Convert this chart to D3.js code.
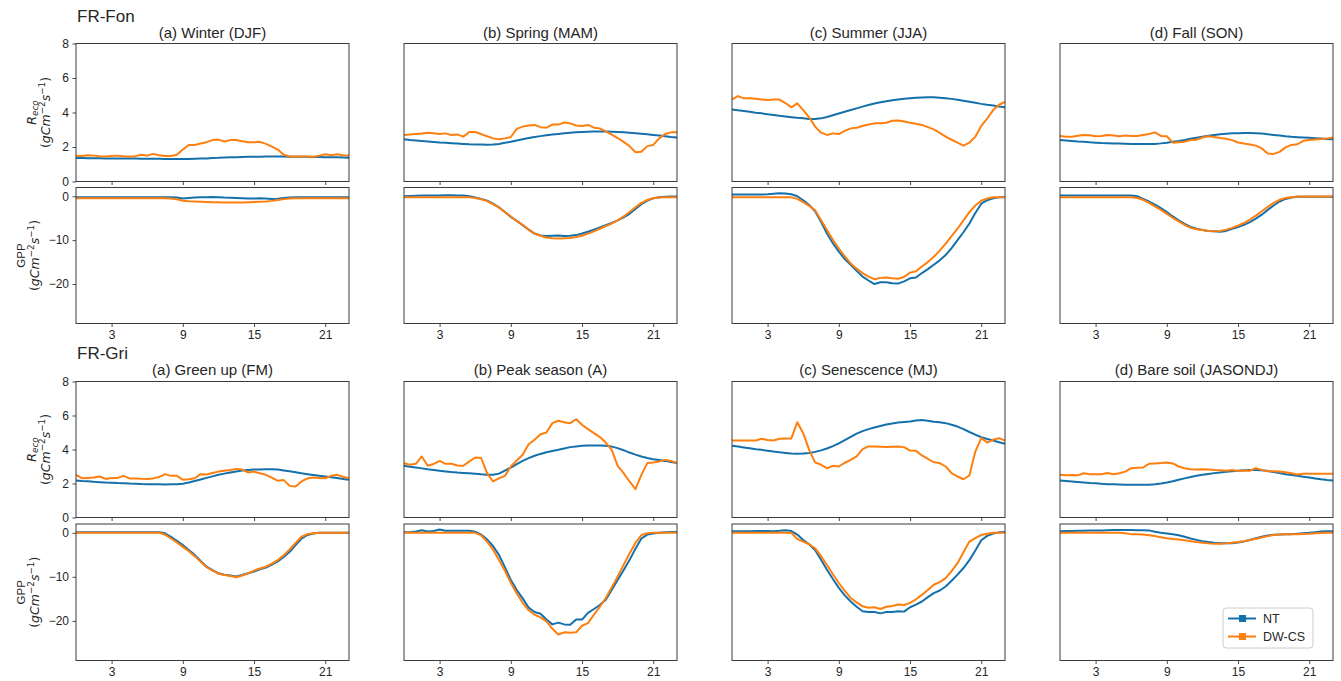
<!DOCTYPE html>
<html>
<head>
<meta charset="utf-8">
<script src="https://cdn.jsdelivr.net/npm/d3@7"></script>
<style>
  body { margin: 0; background: #fff; }
  svg text { font-family: "Liberation Sans", Arial, Helvetica, sans-serif; fill: #262626; }
  svg text.math { font-family: "DejaVu Sans", sans-serif; }
</style>
</head>
<body>
<svg id="chart" width="1341" height="681"></svg>
<script>
// Half-hourly time axis (hour of day)
const hours = [0,0.5,1,1.5,2,2.5,3,3.5,4,4.5,5,5.5,6,6.5,7,7.5,8,8.5,9,9.5,10,10.5,11,11.5,12,12.5,13,13.5,14,14.5,15,15.5,16,16.5,17,17.5,18,18.5,19,19.5,20,20.5,21,21.5,22,22.5,23];
const hourTicks = [3, 9, 15, 21];
const recoTicks = [0, 2, 4, 6, 8];
const gppTicks = [0, -10, -20];
const siteNames = ["FR-Fon", "FR-Gri"];
const fonTitles = ["(a) Winter (DJF)", "(b) Spring (MAM)", "(c) Summer (JJA)", "(d) Fall (SON)"];
const griTitles = ["(a) Green up (FM)", "(b) Peak season (A)", "(c) Senescence (MJ)", "(d) Bare soil (JASONDJ)"];
const methodNames = ["NT", "DW-CS"];
const methodColors = ["#1470ab", "#ff7f0e"];

// FR-Fon, winter
const fonDJF_recoNT = [1.36,1.36,1.35,1.35,1.35,1.34,1.34,1.34,1.33,1.33,1.33,1.32,1.32,1.32,1.32,1.31,1.31,1.31,1.31,1.31,1.32,1.33,1.34,1.36,1.37,1.39,1.40,1.41,1.42,1.43,1.44,1.44,1.45,1.45,1.45,1.45,1.44,1.44,1.43,1.43,1.42,1.42,1.41,1.40,1.40,1.39,1.38];
const fonDJF_recoDW = [1.50,1.48,1.52,1.50,1.47,1.45,1.48,1.50,1.47,1.45,1.47,1.55,1.50,1.60,1.52,1.48,1.48,1.55,1.85,2.12,2.12,2.20,2.28,2.40,2.43,2.32,2.40,2.40,2.33,2.28,2.27,2.30,2.18,2.02,1.85,1.55,1.45,1.45,1.45,1.45,1.43,1.50,1.58,1.52,1.58,1.52,1.50];
const fonDJF_gppNT = [-0.2,-0.2,-0.2,-0.2,-0.2,-0.2,-0.2,-0.2,-0.2,-0.2,-0.2,-0.2,-0.2,-0.2,-0.2,-0.2,-0.2,-0.3,-0.5,-0.4,-0.3,-0.25,-0.2,-0.15,-0.2,-0.3,-0.35,-0.4,-0.45,-0.5,-0.5,-0.45,-0.5,-0.6,-0.55,-0.4,-0.3,-0.2,-0.2,-0.2,-0.2,-0.2,-0.2,-0.2,-0.2,-0.2,-0.2];
const fonDJF_gppDW = [-0.45,-0.45,-0.45,-0.45,-0.45,-0.45,-0.45,-0.45,-0.45,-0.45,-0.45,-0.45,-0.45,-0.45,-0.45,-0.45,-0.5,-0.7,-1.0,-1.15,-1.2,-1.25,-1.3,-1.35,-1.35,-1.4,-1.4,-1.4,-1.4,-1.35,-1.3,-1.25,-1.2,-1.05,-0.85,-0.65,-0.5,-0.45,-0.45,-0.45,-0.45,-0.45,-0.45,-0.45,-0.45,-0.45,-0.45];

// FR-Fon, spring
const fonMAM_recoNT = [2.45,2.41,2.38,2.35,2.32,2.29,2.26,2.24,2.22,2.20,2.18,2.16,2.15,2.14,2.13,2.14,2.18,2.24,2.30,2.38,2.45,2.52,2.58,2.63,2.68,2.72,2.76,2.80,2.83,2.85,2.87,2.89,2.90,2.90,2.90,2.89,2.87,2.85,2.83,2.80,2.77,2.74,2.70,2.66,2.62,2.58,2.55];
const fonMAM_recoDW = [2.70,2.72,2.75,2.78,2.83,2.80,2.75,2.79,2.70,2.73,2.60,2.87,2.87,2.75,2.62,2.50,2.45,2.50,2.58,3.05,3.18,3.25,3.28,3.15,3.12,3.30,3.30,3.42,3.37,3.25,3.22,3.28,3.12,3.08,2.90,2.72,2.52,2.30,2.05,1.70,1.73,2.05,2.12,2.50,2.75,2.85,2.85];
const fonMAM_gppNT = [0,0.05,0.1,0.15,0.2,0.2,0.2,0.22,0.22,0.2,0.18,0.0,-0.3,-0.6,-1.0,-1.7,-2.5,-3.6,-4.7,-5.6,-6.6,-7.6,-8.5,-8.95,-9.05,-9.0,-8.95,-9.05,-9.0,-8.85,-8.5,-8.1,-7.6,-7.1,-6.6,-6.1,-5.5,-4.8,-4.0,-2.9,-1.8,-1.0,-0.45,-0.2,-0.1,-0.05,-0.05];
const fonMAM_gppDW = [-0.2,-0.2,-0.2,-0.2,-0.2,-0.2,-0.2,-0.2,-0.2,-0.2,-0.2,-0.25,-0.4,-0.7,-1.1,-1.8,-2.6,-3.6,-4.6,-5.6,-6.5,-7.6,-8.5,-9.0,-9.4,-9.55,-9.6,-9.55,-9.5,-9.3,-9.0,-8.5,-8.0,-7.4,-6.8,-6.2,-5.5,-4.6,-3.6,-2.5,-1.5,-0.8,-0.45,-0.3,-0.2,-0.2,-0.2];

// FR-Fon, summer
const fonJJA_recoNT = [4.18,4.13,4.09,4.04,3.99,3.95,3.90,3.86,3.81,3.77,3.73,3.69,3.66,3.63,3.62,3.66,3.74,3.84,3.94,4.04,4.14,4.24,4.34,4.43,4.52,4.59,4.65,4.71,4.76,4.80,4.83,4.85,4.87,4.88,4.88,4.86,4.83,4.79,4.74,4.68,4.62,4.56,4.50,4.45,4.41,4.35,4.30];
const fonJJA_recoDW = [4.76,4.95,4.82,4.82,4.80,4.76,4.72,4.75,4.75,4.55,4.30,4.53,4.14,3.72,3.18,2.83,2.70,2.79,2.75,2.93,3.08,3.12,3.22,3.30,3.37,3.38,3.41,3.52,3.53,3.48,3.41,3.35,3.28,3.15,3.02,2.82,2.60,2.42,2.25,2.08,2.25,2.60,3.22,3.65,4.14,4.45,4.62];
const fonJJA_gppNT = [0.4,0.4,0.4,0.4,0.4,0.4,0.45,0.6,0.7,0.65,0.45,0.0,-0.9,-2.0,-3.4,-5.8,-8.5,-10.7,-12.6,-14.3,-15.6,-17.0,-18.3,-19.2,-20.0,-19.6,-19.6,-19.8,-19.9,-19.4,-18.7,-18.5,-17.5,-16.6,-15.6,-14.6,-13.4,-11.8,-10.0,-8.2,-6.2,-3.8,-1.7,-0.9,-0.45,-0.25,-0.15];
const fonJJA_gppDW = [-0.2,-0.2,-0.2,-0.2,-0.2,-0.2,-0.2,-0.2,-0.2,-0.2,-0.25,-0.6,-1.35,-2.2,-3.2,-5.4,-7.7,-9.9,-11.9,-13.7,-15.3,-16.5,-17.5,-18.3,-18.9,-18.6,-18.5,-18.7,-18.8,-18.4,-17.4,-17.1,-16.0,-15.0,-13.8,-12.4,-10.8,-9.1,-7.4,-5.5,-3.6,-2.1,-1.0,-0.5,-0.2,-0.2,-0.2];

// FR-Fon, fall
const fonSON_recoNT = [2.40,2.38,2.35,2.32,2.30,2.27,2.25,2.23,2.22,2.21,2.20,2.19,2.18,2.17,2.17,2.17,2.18,2.21,2.25,2.30,2.35,2.41,2.48,2.54,2.60,2.65,2.70,2.74,2.77,2.79,2.80,2.81,2.81,2.80,2.78,2.74,2.70,2.66,2.62,2.59,2.57,2.55,2.53,2.51,2.49,2.47,2.45];
const fonSON_recoDW = [2.64,2.60,2.60,2.65,2.70,2.68,2.62,2.64,2.70,2.67,2.63,2.67,2.64,2.64,2.70,2.75,2.85,2.64,2.62,2.25,2.28,2.31,2.40,2.42,2.55,2.62,2.58,2.52,2.48,2.40,2.26,2.20,2.15,2.08,1.92,1.62,1.60,1.72,1.98,2.12,2.16,2.36,2.40,2.44,2.46,2.50,2.55];
const fonSON_gppNT = [0.15,0.15,0.15,0.15,0.15,0.15,0.15,0.15,0.15,0.15,0.15,0.15,0.15,0.0,-0.6,-1.2,-1.9,-2.7,-3.6,-4.6,-5.5,-6.3,-7.0,-7.4,-7.7,-7.9,-8.0,-8.1,-7.9,-7.4,-7.0,-6.5,-5.9,-5.1,-4.2,-3.1,-2.1,-1.2,-0.6,-0.3,-0.1,-0.1,-0.1,-0.1,-0.1,-0.1,-0.1];
const fonSON_gppDW = [-0.2,-0.2,-0.2,-0.2,-0.2,-0.2,-0.2,-0.2,-0.2,-0.2,-0.2,-0.2,-0.2,-0.4,-0.8,-1.5,-2.3,-3.1,-4.0,-4.9,-5.7,-6.5,-7.2,-7.5,-7.7,-7.9,-8.0,-7.9,-7.6,-7.2,-6.7,-6.1,-5.3,-4.4,-3.4,-2.4,-1.5,-0.8,-0.4,-0.2,-0.05,-0.05,-0.05,-0.05,-0.05,-0.05,-0.05];

// FR-Gri, green up
const griFM_recoNT = [2.18,2.15,2.13,2.10,2.08,2.06,2.05,2.03,2.02,2.00,1.99,1.97,1.96,1.95,1.95,1.94,1.95,1.96,1.99,2.06,2.15,2.24,2.33,2.42,2.51,2.58,2.65,2.71,2.76,2.79,2.82,2.83,2.84,2.84,2.82,2.77,2.72,2.66,2.60,2.55,2.50,2.45,2.41,2.37,2.32,2.27,2.22];
const griFM_recoDW = [2.51,2.31,2.33,2.35,2.41,2.27,2.33,2.33,2.45,2.30,2.30,2.28,2.27,2.30,2.38,2.55,2.45,2.45,2.22,2.25,2.31,2.55,2.53,2.62,2.70,2.75,2.80,2.86,2.82,2.65,2.70,2.60,2.51,2.35,2.16,2.20,1.86,1.82,2.12,2.30,2.35,2.33,2.31,2.45,2.51,2.40,2.31];
const griFM_gppNT = [0.15,0.15,0.15,0.15,0.15,0.15,0.15,0.15,0.15,0.15,0.15,0.15,0.15,0.15,0.15,-0.1,-0.9,-1.8,-2.8,-3.9,-5.0,-6.4,-7.7,-8.5,-9.2,-9.5,-9.7,-9.9,-9.6,-9.2,-8.8,-8.3,-7.9,-7.2,-6.5,-5.5,-4.3,-2.8,-1.3,-0.5,-0.15,0,0,0,0,0,0];
const griFM_gppDW = [0,0,0,0,0,0,0,0,0,0,0,0,0,0,0,-0.4,-1.3,-2.2,-3.2,-4.2,-5.3,-6.6,-7.8,-8.6,-9.3,-9.6,-9.8,-10.1,-9.7,-9.2,-8.6,-8.1,-7.7,-7.0,-6.2,-5.1,-3.8,-2.3,-0.9,-0.3,-0.1,0,0,0,0,0,0];

// FR-Gri, peak season
const griA_recoNT = [3.04,2.99,2.94,2.89,2.84,2.80,2.75,2.71,2.67,2.64,2.62,2.60,2.57,2.54,2.52,2.51,2.58,2.76,2.94,3.14,3.33,3.49,3.63,3.74,3.84,3.91,3.98,4.06,4.14,4.18,4.22,4.23,4.24,4.24,4.22,4.17,4.08,3.96,3.82,3.70,3.59,3.50,3.43,3.38,3.33,3.26,3.20];
const griA_recoDW = [3.20,3.10,3.16,3.59,3.04,3.15,3.33,3.16,3.16,3.06,3.04,3.30,3.53,3.50,2.61,2.12,2.30,2.45,3.00,3.35,3.69,4.31,4.57,4.90,5.00,5.55,5.69,5.60,5.55,5.78,5.45,5.20,4.96,4.73,4.41,3.98,3.04,2.61,2.12,1.67,2.51,3.20,3.24,3.30,3.39,3.33,3.20];
const griA_gppNT = [0.1,0.15,0.3,0.6,0.3,0.4,0.75,0.45,0.45,0.45,0.45,0.45,0.25,-0.4,-1.5,-3.0,-5.0,-7.8,-10.7,-13.0,-14.9,-17.0,-18.0,-18.4,-19.7,-20.8,-20.4,-20.8,-20.9,-19.7,-19.7,-18.2,-17.3,-16.4,-15.2,-13.0,-10.7,-8.5,-6.2,-3.6,-1.3,-0.4,-0.15,0,0.1,0.2,0.2];
const griA_gppDW = [0,0,0,0,0,0,0,0,0,0,0,0,0,-0.6,-2.0,-3.8,-6.2,-8.6,-11.4,-13.8,-15.9,-17.6,-18.6,-19.2,-20.1,-21.8,-23.1,-22.6,-22.7,-22.6,-21.1,-20.5,-18.6,-16.8,-14.8,-12.4,-9.9,-7.3,-4.7,-2.3,-0.5,-0.1,0,0,0,0,0];

// FR-Gri, senescence
const griMJ_recoNT = [4.22,4.17,4.12,4.07,4.02,3.98,3.93,3.88,3.84,3.80,3.76,3.75,3.76,3.80,3.86,3.95,4.06,4.20,4.36,4.55,4.74,4.93,5.08,5.20,5.29,5.38,5.47,5.53,5.59,5.62,5.65,5.70,5.74,5.69,5.63,5.60,5.55,5.46,5.35,5.20,5.03,4.87,4.73,4.62,4.53,4.43,4.33];
const griMJ_recoDW = [4.53,4.53,4.53,4.53,4.53,4.63,4.56,4.53,4.63,4.65,4.65,5.60,4.96,3.98,3.24,3.10,2.90,3.04,3.00,3.22,3.39,3.59,4.02,4.18,4.18,4.16,4.14,4.16,4.18,4.14,3.94,3.92,3.65,3.45,3.25,3.20,3.00,2.61,2.41,2.25,2.47,3.88,4.67,4.41,4.57,4.67,4.53];
const griMJ_gppNT = [0.38,0.38,0.38,0.38,0.40,0.40,0.40,0.38,0.45,0.60,0.40,-0.4,-1.65,-2.6,-3.9,-6.1,-8.4,-10.5,-12.5,-14.2,-15.6,-16.8,-17.8,-18.0,-18.0,-18.3,-18.0,-18.0,-17.8,-17.9,-16.9,-16.3,-15.6,-14.6,-13.7,-13.1,-12.2,-10.9,-9.5,-8.0,-6.2,-4.0,-1.7,-0.7,-0.15,0.1,0.2];
const griMJ_gppDW = [0,0,0,0,0,0,0,0,0,0,0,-1.4,-2.0,-2.6,-3.5,-5.3,-7.3,-9.4,-11.4,-13.2,-14.8,-15.8,-16.7,-17.0,-16.9,-17.3,-16.8,-16.6,-16.3,-16.4,-15.9,-15.1,-14.1,-13.0,-11.8,-11.2,-10.3,-8.7,-6.9,-4.4,-2.0,-1.2,-0.5,-0.2,0,0,0];

// FR-Gri, bare soil
const griBS_recoNT = [2.18,2.15,2.12,2.09,2.06,2.03,2.01,1.98,1.96,1.95,1.94,1.93,1.92,1.92,1.92,1.93,1.96,2.00,2.06,2.13,2.22,2.30,2.38,2.45,2.51,2.56,2.61,2.65,2.69,2.72,2.75,2.78,2.80,2.80,2.78,2.73,2.67,2.61,2.55,2.50,2.45,2.40,2.35,2.30,2.25,2.21,2.18];
const griBS_recoDW = [2.51,2.48,2.50,2.48,2.60,2.55,2.55,2.55,2.62,2.55,2.60,2.70,2.90,2.92,2.94,3.16,3.18,3.20,3.24,3.18,3.00,2.90,2.84,2.83,2.84,2.83,2.80,2.78,2.75,2.80,2.74,2.76,2.75,2.90,2.80,2.72,2.72,2.70,2.66,2.60,2.53,2.57,2.57,2.57,2.57,2.57,2.57];
const griBS_gppNT = [0.38,0.40,0.42,0.45,0.48,0.50,0.52,0.55,0.58,0.62,0.66,0.66,0.62,0.60,0.60,0.55,0.25,0.0,-0.15,-0.35,-0.55,-0.9,-1.3,-1.6,-1.9,-2.1,-2.25,-2.35,-2.4,-2.35,-2.2,-1.95,-1.65,-1.25,-0.9,-0.6,-0.45,-0.4,-0.35,-0.3,-0.2,-0.1,0.0,0.15,0.3,0.35,0.35];
const griBS_gppDW = [0,0,0,0,0,0,0,0,0,0,0,-0.1,-0.3,-0.35,-0.4,-0.55,-0.75,-1.0,-1.25,-1.4,-1.5,-1.7,-1.9,-2.1,-2.25,-2.4,-2.5,-2.5,-2.4,-2.25,-2.1,-1.9,-1.65,-1.35,-1.05,-0.75,-0.5,-0.4,-0.35,-0.3,-0.3,-0.25,-0.2,-0.1,-0.05,0,0];

// ---------------------------------------------------------------------
const svg = d3.select("#chart");
const colLeft = [76, 404, 732, 1060];
const panelW = 273;
const siteRows = [
  { name: siteNames[0], titles: fonTitles, siteY: 21.5, titleY: 37.5,
    recoTop: 43.5, recoBottom: 181.5, gppTop: 187.5, gppBottom: 323.5,
    reco: [[fonDJF_recoNT, fonDJF_recoDW], [fonMAM_recoNT, fonMAM_recoDW], [fonJJA_recoNT, fonJJA_recoDW], [fonSON_recoNT, fonSON_recoDW]],
    gpp:  [[fonDJF_gppNT, fonDJF_gppDW], [fonMAM_gppNT, fonMAM_gppDW], [fonJJA_gppNT, fonJJA_gppDW], [fonSON_gppNT, fonSON_gppDW]] },
  { name: siteNames[1], titles: griTitles, siteY: 358.5, titleY: 375,
    recoTop: 381.5, recoBottom: 517.5, gppTop: 524, gppBottom: 660.5,
    reco: [[griFM_recoNT, griFM_recoDW], [griA_recoNT, griA_recoDW], [griMJ_recoNT, griMJ_recoDW], [griBS_recoNT, griBS_recoDW]],
    gpp:  [[griFM_gppNT, griFM_gppDW], [griA_gppNT, griA_gppDW], [griMJ_gppNT, griMJ_gppDW], [griBS_gppNT, griBS_gppDW]] }
];

const fmt = d => (d < 0 ? "\u2212" + Math.abs(d) : String(d));
let clipId = 0;

function styleAxis(g) {
  g.select(".domain").remove();
  g.selectAll(".tick line").attr("stroke", "#333").attr("stroke-width", 0.9);
  g.selectAll(".tick text").attr("fill", "#262626").style("font-size", "12px")
    .style("font-family", "'Liberation Sans', Arial, sans-serif");
}

function drawPanel(left, top, bottom, yDomain, seriesPair, opts) {
  const x = d3.scaleLinear().domain([0, 23]).range([left, left + panelW]);
  const y = d3.scaleLinear().domain(yDomain).range([bottom, top]);
  const id = "clip" + (clipId++);
  svg.append("clipPath").attr("id", id).append("rect")
    .attr("x", left).attr("y", top).attr("width", panelW).attr("height", bottom - top);

  const line = d3.line().x(d => x(d[0])).y(d => y(d[1]));
  const layer = svg.append("g").attr("clip-path", `url(#${id})`);
  seriesPair.forEach((vals, i) => {
    layer.append("path")
      .datum(hours.map((h, k) => [h, vals[k]]))
      .attr("d", line)
      .attr("fill", "none")
      .attr("stroke", methodColors[i])
      .attr("stroke-width", 2)
      .attr("stroke-linejoin", "round");
  });

  const xAxis = svg.append("g").attr("transform", `translate(0,${bottom})`)
    .call(d3.axisBottom(x).tickValues(hourTicks).tickSize(3.5).tickPadding(3.5)
      .tickFormat(opts.xLabels ? fmt : () => ""));
  styleAxis(xAxis);

  if (opts.yTicks) {
    const yAxis = svg.append("g").attr("transform", `translate(${left},0)`)
      .call(d3.axisLeft(y).tickValues(opts.yTicks).tickSize(3.5).tickPadding(3.5).tickFormat(fmt));
    styleAxis(yAxis);
  }

  svg.append("rect")
    .attr("x", left).attr("y", top).attr("width", panelW).attr("height", bottom - top)
    .attr("fill", "none").attr("stroke", "#3a3a3a").attr("stroke-width", 1);
}

function unitsText(g, dy) {
  const t = g.append("text").attr("class", "math").attr("x", 0).attr("y", dy)
    .attr("text-anchor", "middle").style("font-size", "12.5px");
  t.append("tspan").text("(");
  t.append("tspan").attr("font-style", "italic").text("gCm");
  t.append("tspan").style("font-size", "8.8px").attr("dy", -5).text("\u22122");
  t.append("tspan").attr("font-style", "italic").attr("dy", 5).text("s");
  t.append("tspan").style("font-size", "8.8px").attr("dy", -5).text("\u22121");
  t.append("tspan").attr("dy", 5).text(")");
}

siteRows.forEach(row => {
  svg.append("text").attr("x", 77).attr("y", row.siteY)
    .style("font-size", "17px").text(row.name);

  colLeft.forEach((left, c) => {
    svg.append("text").attr("x", left + panelW / 2).attr("y", row.titleY)
      .attr("text-anchor", "middle").style("font-size", "15px").text(row.titles[c]);

    drawPanel(left, row.recoTop, row.recoBottom, [0, 8], row.reco[c],
      { yTicks: c === 0 ? recoTicks : null, xLabels: false });
    drawPanel(left, row.gppTop, row.gppBottom, [-29, 2], row.gpp[c],
      { yTicks: c === 0 ? gppTicks : null, xLabels: true });
  });

  // y-axis labels of the first column
  const recoMid = (row.recoTop + row.recoBottom) / 2;
  const gR = svg.append("g").attr("transform", `translate(35.5,${recoMid}) rotate(-90)`);
  const rt = gR.append("text").attr("class", "math").attr("text-anchor", "middle")
    .style("font-size", "12.5px");
  rt.append("tspan").attr("font-style", "italic").text("R");
  rt.append("tspan").attr("font-style", "italic").style("font-size", "8.8px").attr("dy", 2.5).text("eco");
  unitsText(gR, 14.5);

  const gppMid = (row.gppTop + row.gppBottom) / 2;
  const gG = svg.append("g").attr("transform", `translate(24.5,${gppMid}) rotate(-90)`);
  gG.append("text").attr("text-anchor", "middle").style("font-size", "11.5px").text("GPP");
  unitsText(gG, 14.5);
});

// legend in the last GPP panel
const legend = svg.append("g").attr("transform", "translate(1223,608)");
legend.append("rect").attr("width", 90).attr("height", 40).attr("rx", 3)
  .attr("fill", "#fff").attr("fill-opacity", 0.8).attr("stroke", "#cccccc").attr("stroke-width", 1);
methodNames.forEach((name, i) => {
  const yy = 10.5 + i * 18;
  legend.append("line").attr("x1", 5).attr("x2", 33).attr("y1", yy).attr("y2", yy)
    .attr("stroke", methodColors[i]).attr("stroke-width", 2);
  legend.append("rect").attr("x", 16).attr("y", yy - 3.5).attr("width", 7).attr("height", 7)
    .attr("fill", methodColors[i]);
  legend.append("text").attr("x", 40).attr("y", yy).attr("dy", "0.36em")
    .style("font-size", "12.5px").text(name);
});
</script>
</body>
</html>
